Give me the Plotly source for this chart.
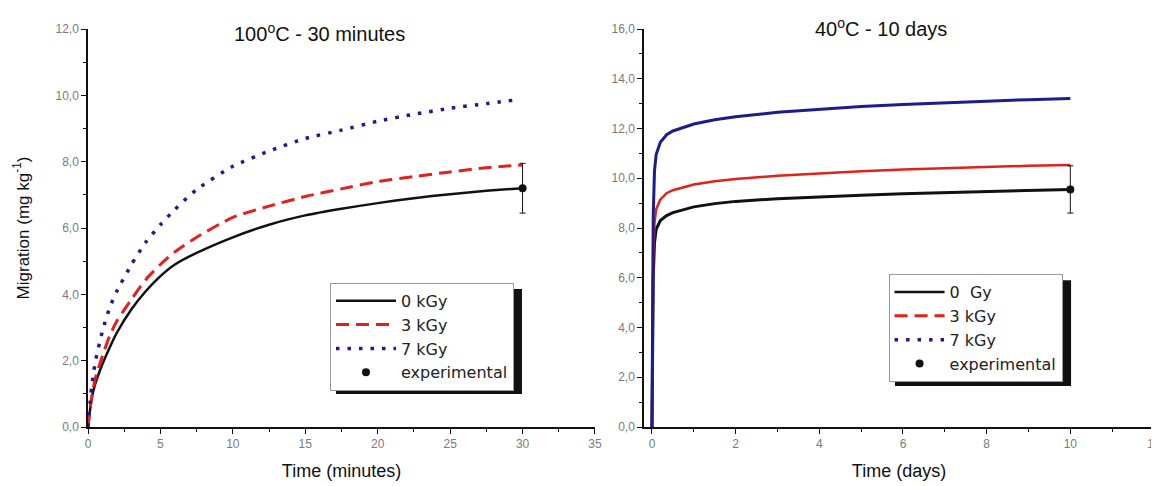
import plotly.graph_objects as go

# 100 C - 30 minutes (left panel)
t_min = [0, 0.25, 0.5, 1, 1.5, 2, 3, 4, 5, 6, 7.5, 10, 12.5, 15, 17.5, 20, 22.5, 25, 27.5, 30]
m_0kgy = [0, 0.85, 1.3, 1.9, 2.4, 2.85, 3.55, 4.1, 4.55, 4.9, 5.25, 5.72, 6.1, 6.38, 6.58, 6.75, 6.9, 7.02, 7.12, 7.2]
m_3kgy = [0, 0.9, 1.45, 2.15, 2.75, 3.2, 3.85, 4.45, 4.9, 5.28, 5.72, 6.32, 6.66, 6.95, 7.18, 7.4, 7.55, 7.69, 7.82, 7.9]
t_min_7 = [0, 0.25, 0.5, 1, 1.5, 2, 3, 4, 5, 6, 7.5, 10, 12.5, 15, 17.5, 20, 22.5, 25, 27.5, 29.5]
m_7kgy = [0, 1.2, 1.95, 2.9, 3.6, 4.1, 4.9, 5.58, 6.1, 6.56, 7.16, 7.86, 8.32, 8.7, 8.95, 9.22, 9.43, 9.61, 9.75, 9.86]
exp_min_t = [30]
exp_min_y = [7.2]
exp_min_err = [0.75]

# 40 C - 10 days (right panel)
t_day = [0, 0.01, 0.03, 0.06, 0.1, 0.2, 0.35, 0.5, 0.75, 1, 1.5, 2, 3, 4, 5, 6, 7, 8, 9, 10]
d_0kgy = [0, 3.5, 6.0, 7.4, 7.95, 8.3, 8.5, 8.62, 8.75, 8.85, 8.98, 9.07, 9.18, 9.26, 9.32, 9.38, 9.43, 9.47, 9.51, 9.55]
d_3kgy = [0, 4.0, 6.8, 8.2, 8.75, 9.15, 9.4, 9.52, 9.65, 9.75, 9.88, 9.97, 10.1, 10.2, 10.28, 10.35, 10.41, 10.46, 10.5, 10.53]
d_7kgy = [0, 5.0, 8.5, 10.3, 10.95, 11.45, 11.75, 11.9, 12.05, 12.18, 12.35, 12.47, 12.65, 12.78, 12.88, 12.96, 13.04, 13.1, 13.16, 13.21]
exp_day_t = [10]
exp_day_y = [9.55]
exp_day_err = [0.95]

BLACK = "#111111"
RED = "#e3201b"
BLUE = "#1c1c8c"
FONT = "Liberation Sans, Arial, sans-serif"
DASH = "13px,7px"
DOT = "3.5px,8px"

fig = go.Figure()

# left panel
fig.add_trace(go.Scatter(x=t_min, y=m_0kgy, mode="lines", name="0 kGy", legend="legend",
                         line=dict(color=BLACK, width=2.5, shape="spline", smoothing=0.6)))
fig.add_trace(go.Scatter(x=t_min, y=m_3kgy, mode="lines", name="3 kGy", legend="legend",
                         line=dict(color=RED, width=3, dash=DASH, shape="spline", smoothing=0.6)))
fig.add_trace(go.Scatter(x=t_min_7, y=m_7kgy, mode="lines", name="7 kGy", legend="legend",
                         line=dict(color=BLUE, width=3.5, dash=DOT, shape="spline", smoothing=0.6)))
fig.add_trace(go.Scatter(x=exp_min_t, y=exp_min_y, mode="markers", name="experimental", legend="legend",
                         marker=dict(color=BLACK, size=8),
                         error_y=dict(type="data", array=exp_min_err, color=BLACK, thickness=1, width=3)))

# right panel: curves drawn solid, legend entries carry the line styles
fig.add_trace(go.Scatter(x=t_day, y=d_0kgy, mode="lines", showlegend=False,
                         line=dict(color=BLACK, width=3), xaxis="x2", yaxis="y2"))
fig.add_trace(go.Scatter(x=t_day, y=d_3kgy, mode="lines", showlegend=False,
                         line=dict(color=RED, width=2.5), xaxis="x2", yaxis="y2"))
fig.add_trace(go.Scatter(x=t_day, y=d_7kgy, mode="lines", showlegend=False,
                         line=dict(color=BLUE, width=3), xaxis="x2", yaxis="y2"))
for name, color, width, dash in [("0\u00a0\u00a0Gy", BLACK, 2.5, "solid"),
                                 ("3 kGy", RED, 3, DASH),
                                 ("7 kGy", BLUE, 3.5, DOT)]:
    fig.add_trace(go.Scatter(x=[None], y=[None], mode="lines", name=name, legend="legend2",
                             line=dict(color=color, width=width, dash=dash),
                             xaxis="x2", yaxis="y2"))
fig.add_trace(go.Scatter(x=exp_day_t, y=exp_day_y, mode="markers", name="experimental", legend="legend2",
                         marker=dict(color=BLACK, size=8),
                         error_y=dict(type="data", array=exp_day_err, color=BLACK, thickness=1, width=3),
                         xaxis="x2", yaxis="y2"))

axis_common = dict(showline=True, linecolor=BLACK, linewidth=1.5, showgrid=False, zeroline=False,
                   automargin=False, ticklabeloverflow="allow",
                   ticks="outside", ticklen=5, tickcolor=BLACK, tickwidth=1.2,
                   tickfont=dict(size=12, color="#7a7a7a", family=FONT),
                   minor=dict(ticks="outside", ticklen=3, tickcolor=BLACK, tickwidth=1))

legend_common = dict(bgcolor="white", bordercolor="#999999", borderwidth=1,
                     font=dict(size=16, color="#222222", family="DejaVu Sans, sans-serif"),
                     xanchor="left", yanchor="top", traceorder="normal")

# the page body keeps its 8px margin, so the figure is 8px smaller and margins shifted
fig.update_layout(
    width=1151, height=478,
    margin=dict(l=80, r=5, t=21, b=59, autoexpand=False),
    plot_bgcolor="white", paper_bgcolor="white",
    separators=",.",
    font=dict(family=FONT, color=BLACK),
    xaxis=dict(axis_common, domain=[0, 0.4756], range=[0, 35], dtick=5,
               minor=dict(axis_common["minor"], dtick=2.5),
               title=dict(text="Time (minutes)", font=dict(size=18), standoff=14), anchor="y"),
    yaxis=dict(axis_common, range=[0, 12], dtick=2, tickformat=".1f",
               minor=dict(axis_common["minor"], dtick=1),
               title=dict(text="Migration (mg kg<sup>-1</sup>)", font=dict(size=17), standoff=22),
               anchor="x"),
    xaxis2=dict(axis_common, domain=[0.5216, 1], range=[-0.19, 12], dtick=2,
                minor=dict(axis_common["minor"], dtick=1),
                title=dict(text="Time (days)", font=dict(size=18), standoff=14), anchor="y2"),
    yaxis2=dict(axis_common, range=[0, 16], dtick=2, tickformat=".1f",
                minor=dict(axis_common["minor"], dtick=1), anchor="x2"),
    legend=dict(legend_common, x=0.227, y=0.362, itemwidth=60),
    legend2=dict(legend_common, x=0.751, y=0.384, itemwidth=50),
    annotations=[
        dict(text="100<sup>o</sup>C - 30 minutes", xref="paper", yref="paper", x=0.2176, y=0.99,
             xanchor="center", yanchor="middle", showarrow=False, font=dict(size=20, color=BLACK)),
        dict(text="40<sup>o</sup>C - 10 days", xref="paper", yref="paper", x=0.744, y=1.003,
             xanchor="center", yanchor="middle", showarrow=False, font=dict(size=20, color=BLACK)),
    ],
    shapes=[
        dict(type="rect", xref="paper", yref="paper", x0=0.2326, x1=0.4071, y0=0.083, y1=0.347,
             fillcolor=BLACK, line=dict(width=0), layer="above"),
        dict(type="rect", xref="paper", yref="paper", x0=0.757, x1=0.9222, y0=0.103, y1=0.369,
             fillcolor=BLACK, line=dict(width=0), layer="above"),
    ],
)

fig.write_html("out.html")
